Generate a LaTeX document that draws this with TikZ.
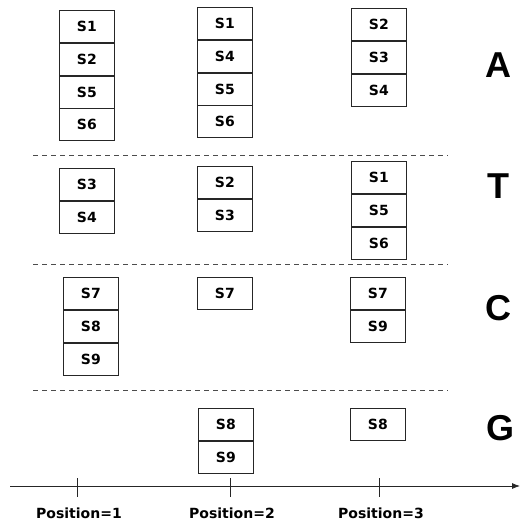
\documentclass[tikz,border=0pt]{standalone}
\usepackage{fontspec}
\usetikzlibrary{positioning,arrows.meta}
\newfontfamily\cellfont{DejaVu Sans}
\newfontfamily\basefont{Liberation Sans}
\begin{document}
\begin{tikzpicture}[x=1pt,y=-1pt,
  cell/.style={draw=black!85, line width=0.8pt, minimum width=55pt,
    minimum height=32pt, inner sep=0pt, font=\cellfont\bfseries\fontsize{14}{14}\selectfont},
  below cell/.style={cell, below=0pt of #1},
  basename/.style={font=\basefont\bfseries\fontsize{36}{36}\selectfont, inner sep=0pt},
  sep/.style={draw=black!70, line width=0.8pt, dash pattern=on 5pt off 4pt},
  axis/.style={draw=black!85, line width=0.8pt, -{Latex[length=8pt,width=6pt]}},
  tick/.style={draw=black!85, line width=0.8pt},
  poslabel/.style={font=\cellfont\bfseries\fontsize{14}{14}\selectfont, inner sep=0pt}]
\useasboundingbox (0,0) rectangle (520,523);

% base A
\node[cell, anchor=north west] (a11) at (59,10) {S1};
\node[below cell=a11] (a12) {S2};
\node[below cell=a12] (a13) {S5};
\node[below cell=a13] (a14) {S6};
\node[cell, anchor=north west] (a21) at (197,7) {S1};
\node[below cell=a21] (a22) {S4};
\node[below cell=a22] (a23) {S5};
\node[below cell=a23] (a24) {S6};
\node[cell, anchor=north west] (a31) at (351,8) {S2};
\node[below cell=a31] (a32) {S3};
\node[below cell=a32] (a33) {S4};
\node[basename] (la) at (498,65) {A};

% base T
\node[cell, anchor=north west] (t11) at (59,168) {S3};
\node[below cell=t11] (t12) {S4};
\node[cell, anchor=north west] (t21) at (197,166) {S2};
\node[below cell=t21] (t22) {S3};
\node[cell, anchor=north west] (t31) at (351,161) {S1};
\node[below cell=t31] (t32) {S5};
\node[below cell=t32] (t33) {S6};
\node[basename] (lt) at (498,186) {T};

% base C
\node[cell, anchor=north west] (c11) at (63,277) {S7};
\node[below cell=c11] (c12) {S8};
\node[below cell=c12] (c13) {S9};
\node[cell, anchor=north west] (c21) at (197,277) {S7};
\node[cell, anchor=north west] (c31) at (350,277) {S7};
\node[below cell=c31] (c32) {S9};
\node[basename] (lc) at (498,308) {C};

% base G
\node[cell, anchor=north west] (g21) at (198,408) {S8};
\node[below cell=g21] (g22) {S9};
\node[cell, anchor=north west] (g31) at (350,408) {S8};
\node[basename] (lg) at (500,428) {G};

% separators between bases
\coordinate (s1l) at (33,155);  \coordinate (s1r) at (448,155);
\coordinate (s2l) at (33,264);  \coordinate (s2r) at (448,264);
\coordinate (s3l) at (33,390);  \coordinate (s3r) at (448,390);
\draw[sep] (s1l) -- (s1r);
\draw[sep] (s2l) -- (s2r);
\draw[sep] (s3l) -- (s3r);

% position axis
\coordinate (axs) at (10,486);
\coordinate (axe) at (520,486);
\draw[axis] (axs) -- (axe);
\foreach \x/\n in {77/1, 230/2, 379/3} {
  \coordinate (tt\n) at (\x,478);
  \coordinate (tb\n) at (\x,497);
  \draw[tick] (tt\n) -- (tb\n);
  \node[poslabel] (p\n) at (\x+2,513) {Position=\n};
}
\end{tikzpicture}
\end{document}
